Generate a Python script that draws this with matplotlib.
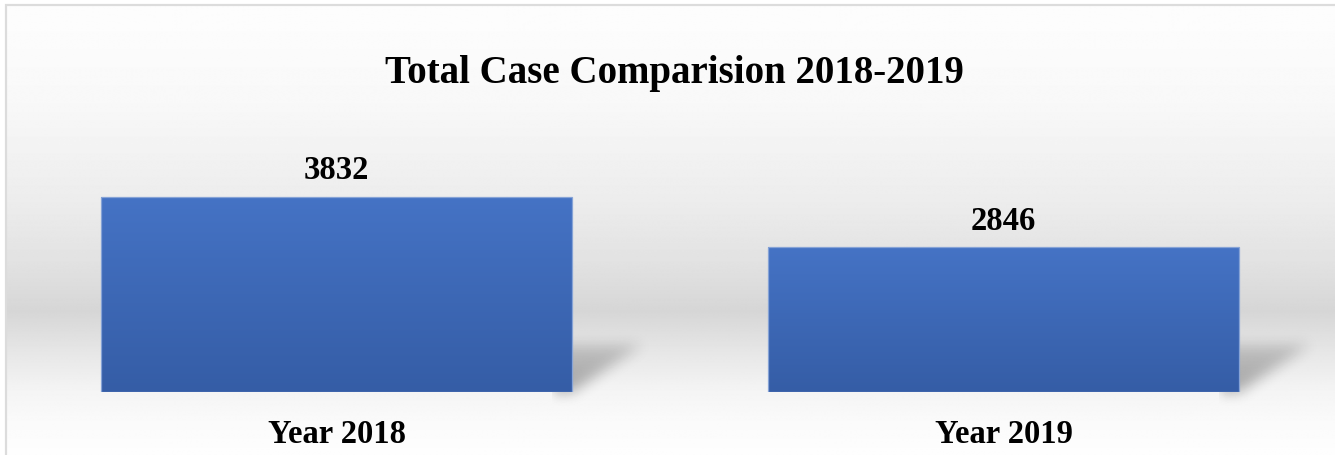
import numpy as np
import matplotlib
matplotlib.use('Agg')
from matplotlib import pyplot as plt
from matplotlib.patches import Rectangle

# данные
categories = ['Year 2018', 'Year 2019']
cases = [3832, 2846]
title = 'Total Case Comparision 2018-2019'

W, H = 1335, 456
plt.rcParams['font.family'] = ['Liberation Serif', 'DejaVu Serif']
fig = plt.figure(figsize=(W / 100, H / 100), dpi=100)
fig.patch.set_facecolor('white')

# фон с градиентом (серая полоса посередине)
bg = fig.add_axes([0, 0, 1, 1], zorder=0)
bg.set_axis_off()
ys = np.array([0, 8, 100, 200, 260, 310, 350, 390, 420, 456])          # пиксели сверху
gs = np.array([253, 253, 248, 236, 226, 214, 230, 244, 250, 254]) / 255
col = np.interp(np.arange(H), ys, gs)
img = np.repeat(col[:, None], 4, axis=1)
bg.imshow(img, cmap='gray', vmin=0, vmax=1, aspect='auto',
          extent=(6 / W, 1, 0, 1 - 6 / H), interpolation='bilinear')
bg.set_xlim(0, 1)
bg.set_ylim(0, 1)
bg.add_patch(Rectangle((6 / W, -0.1), 1.1, 1.1 - 6 / H, fill=False,
                       edgecolor='#dcdcdc', lw=1.6, transform=bg.transAxes))

# основная ось
ax = fig.add_axes([0, 63 / H, 1, 1 - 63 / H], zorder=2)
ax.set_facecolor('none')
x = np.arange(len(categories))
for s in ax.spines.values():
    s.set_visible(False)
ax.set_xticks([])
ax.set_yticks([])

width = 0.706
bars = ax.bar(x, cases, width=width, color='none', edgecolor='#86a3d6', lw=0.9, zorder=3)

# градиент в столбиках
grad = np.linspace(0, 1, 256)[:, None]
c_top = np.array([69, 115, 197]) / 255
c_bot = np.array([53, 93, 166]) / 255
bar_img = c_top[None, None, :] * (1 - grad[:, :, None]) + c_bot[None, None, :] * grad[:, :, None]
px_x = 1 / 667           # данные на пиксель по x
px_y = 7720 / 393        # данные на пиксель по y
for b in bars:
    x0, w, h = b.get_x(), b.get_width(), b.get_height()
    im = ax.imshow(bar_img, aspect='auto', extent=(x0, x0 + w, 0, h), zorder=2.5,
                   interpolation='bilinear')
    im.set_clip_path(b)

    # тень справа от столбика
    sx = np.arange(-20, 130)
    sy = np.arange(-20, 80)
    XX, YY = np.meshgrid(sx, sy)
    mask = ((YY >= 0) & (YY <= 47) & (XX <= YY * 70 / 47) & (XX >= -200)).astype(float)
    mask *= (1 - 0.5 * np.clip(YY, 0, 47) / 47)
    k = np.ones(13) / 13
    for _ in range(3):
        mask = np.apply_along_axis(lambda r: np.convolve(r, k, mode='same'), 1, mask)
        mask = np.apply_along_axis(lambda r: np.convolve(r, k, mode='same'), 0, mask)
    sh = np.zeros(mask.shape + (4,))
    sh[..., 3] = mask * 0.33
    ax.imshow(sh[::-1], aspect='auto', zorder=1, clip_on=False, interpolation='bilinear',
              extent=(x0 + w + sx[0] * px_x, x0 + w + sx[-1] * px_x, sy[0] * px_y, sy[-1] * px_y))

    ax.annotate(f'{h:.0f}', (x0 + w / 2, h), xytext=(0, 27), textcoords='offset pixels',
                ha='center', va='center', fontsize=23.5, fontweight='bold', color='black')

for xi, lab in zip(x, categories):
    ax.annotate(lab, (xi, 0), xytext=(0, -42), textcoords='offset pixels',
                ha='center', va='center', fontsize=23.5, fontweight='bold', color='black',
                annotation_clip=False)

ax.set_ylim(0, 7720)
ax.set_xlim(-336.5 / 667, (W - 336.5) / 667)

fig.text(674 / W, 1 - 73 / H, title, ha='center', va='center',
         fontsize=28, fontweight='bold', color='black')

plt.savefig('out.png', dpi=100)
